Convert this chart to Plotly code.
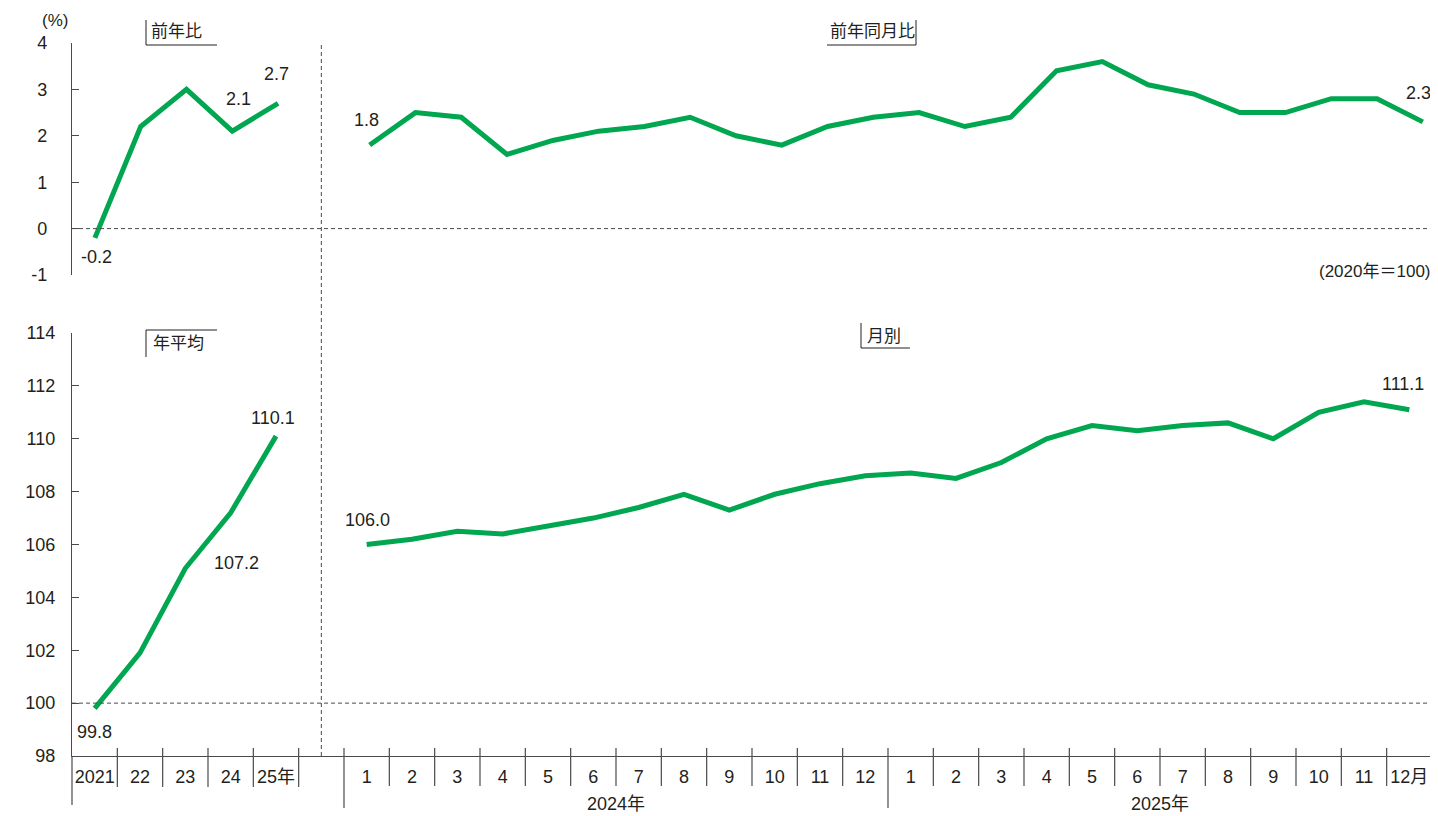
import plotly.graph_objects as go

# ---------------- data ----------------
annual_labels = ["2021", "22", "23", "24", "25年"]
month_labels = [str(i) for i in range(1, 13)] + [str(i) for i in range(1, 12)] + ["12月"]
year_labels = ["2024年", "2025年"]
yoy_ticks = [-1, 0, 1, 2, 3, 4]
yoy_ticktext = ["-1", "0", "1", "2", "3", "4"]
index_ticks = [98, 100, 102, 104, 106, 108, 110, 112, 114]

annual_yoy = [-0.2, 2.2, 3.0, 2.1, 2.7]
monthly_yoy = [1.8, 2.5, 2.4, 1.6, 1.9, 2.1, 2.2, 2.4, 2.0, 1.8, 2.2, 2.4,
               2.5, 2.2, 2.4, 3.4, 3.6, 3.1, 2.9, 2.5, 2.5, 2.8, 2.8, 2.3]
annual_index = [99.8, 101.9, 105.1, 107.2, 110.1]
monthly_index = [106.0, 106.2, 106.5, 106.4, 106.7, 107.0, 107.4, 107.9, 107.3, 107.9, 108.3, 108.6,
                 108.7, 108.5, 109.1, 110.0, 110.5, 110.3, 110.5, 110.6, 110.0, 111.0, 111.4, 111.1]

# ---------------- layout helpers ----------------
OFF = 8                      # page body margin in the browser
W, H = 1438 - OFF, 816 - OFF
L, R, T, B = 72, 1432, 43, 756   # target plot box in screenshot pixels
GREEN = "#00a650"
INK = "#231f20"
GRID = "#4a4a4a"
FONT = "Liberation Sans, Arial, Noto Sans CJK JP, sans-serif"
NA = len(annual_labels)
GAP = 1
NM = len(month_labels)
NTOT = NA + GAP + NM
TOP_SPAN = NTOT - 0.3        # upper panel is drawn on a slightly wider grid


def py(p):
    return (B - p) / (B - T)


def px(p):
    return (p - L) / (R - L)


xa = [i + 0.5 for i in range(NA)]
xm = [NA + GAP + i + 0.5 for i in range(NM)]

fig = go.Figure()
line = dict(color=GREEN, width=5)
fig.add_trace(go.Scatter(x=xa, y=annual_yoy, mode="lines", line=line, xaxis="x", yaxis="y"))
fig.add_trace(go.Scatter(x=xm, y=monthly_yoy, mode="lines", line=line, xaxis="x", yaxis="y"))
fig.add_trace(go.Scatter(x=xa, y=annual_index, mode="lines", line=line, xaxis="x2", yaxis="y2"))
fig.add_trace(go.Scatter(x=xm, y=monthly_index, mode="lines", line=line, xaxis="x2", yaxis="y2"))

shapes = []
dash = dict(color=GRID, width=1, dash="4px,3px")
shapes.append(dict(type="line", xref="paper", yref="y", x0=0, x1=1, y0=0, y1=0, line=dash))
shapes.append(dict(type="line", xref="x2", yref="y2", x0=0, x1=NTOT, y0=100, y1=100, line=dash))
shapes.append(dict(type="line", xref="x2", yref="paper", x0=NA + GAP / 2, x1=NA + GAP / 2,
                   y0=0, y1=1, line=dash))
sep = dict(color=GRID, width=1.2)
for k in range(1, NA + 1):
    shapes.append(dict(type="line", xref="x2", yref="paper", x0=k, x1=k, y0=py(787), y1=py(748), line=sep))
for k in range(NM + 1):
    xk = NA + GAP + k
    if k % 12 == 0:
        shapes.append(dict(type="line", xref="x2", yref="paper", x0=xk, x1=xk, y0=py(808), y1=py(748), line=sep))
    else:
        shapes.append(dict(type="line", xref="x2", yref="paper", x0=xk, x1=xk, y0=py(786), y1=py(748), line=sep))
shapes.append(dict(type="line", xref="paper", yref="paper", x0=0, x1=0, y0=py(805), y1=py(756),
                   line=dict(color=GRID, width=1.2)))

lb = dict(color=INK, width=1)


def seg(x0, y0, x1, y1):
    shapes.append(dict(type="line", xref="paper", yref="paper", x0=px(x0), x1=px(x1),
                       y0=py(y0), y1=py(y1), line=lb))


seg(146, 20, 146, 45); seg(146, 45, 217, 45)          # 前年比
seg(827, 45, 916, 45); seg(916, 20, 916, 45)          # 前年同月比
seg(146, 330, 217, 330); seg(146, 330, 146, 357)      # 年平均
seg(861, 323, 861, 348); seg(861, 348, 910, 348)      # 月別

ann = []


def txt(x, y, s, size=18, xanchor="center"):
    ann.append(dict(xref="paper", yref="paper", x=px(x), y=py(y), text=s, showarrow=False,
                    xanchor=xanchor, yanchor="middle", font=dict(size=size, color=INK, family=FONT)))


txt(176, 32, "前年比", 17)
txt(872, 32, "前年同月比", 17)
txt(178, 343, "年平均", 17)
txt(884, 336, "月別", 17)
txt(55, 20, "(%)", 17)
txt(1433, 271, "(2020年＝100)", 17, xanchor="right")

LBL = 18


def dl(xref, yref, x, y, s, dx, dy, xanchor="center"):
    ann.append(dict(xref=xref, yref=yref, x=x, y=y, text=s, showarrow=False, xshift=dx, yshift=dy,
                    xanchor=xanchor, yanchor="middle", font=dict(size=LBL, color=INK, family=FONT)))


dl("x", "y", xa[0], annual_yoy[0], f"{annual_yoy[0]:.1f}", 2, -19)
dl("x", "y", xa[3], annual_yoy[3], f"{annual_yoy[3]:.1f}", 6, 32)
dl("x", "y", xa[4], annual_yoy[4], f"{annual_yoy[4]:.1f}", -2, 29)
dl("x", "y", xm[0], monthly_yoy[0], f"{monthly_yoy[0]:.1f}", -3, 25)
dl("x", "y", xm[-1], monthly_yoy[-1], f"{monthly_yoy[-1]:.1f}", 10, 29, xanchor="right")
dl("x2", "y2", xa[0], annual_index[0], f"{annual_index[0]:.1f}", 0, -24)
dl("x2", "y2", xa[3], annual_index[3], f"{annual_index[3]:.1f}", 6, -50)
dl("x2", "y2", xa[4], annual_index[4], f"{annual_index[4]:.1f}", -3, 18)
dl("x2", "y2", xm[0], monthly_index[0], f"{monthly_index[0]:.1f}", 1, 25)
dl("x2", "y2", xm[-1], monthly_index[-1], f"{monthly_index[-1]:.1f}", -6, 26)

for j, s in enumerate(year_labels):
    ann.append(dict(xref="x2", yref="paper", x=NA + GAP + 12 * j + 6, y=py(804), text=s, showarrow=False,
                    xanchor="center", yanchor="middle", font=dict(size=LBL, color=INK, family=FONT)))

tickfont = dict(size=LBL, color=INK, family=FONT)
fig.update_layout(
    width=W, height=H,
    margin=dict(l=L - OFF, r=(1438 - R), t=T - OFF, b=(816 - B), pad=0),
    paper_bgcolor="white", plot_bgcolor="white",
    showlegend=False,
    font=dict(family=FONT, color=INK),
    xaxis=dict(domain=[0, 1], range=[0, TOP_SPAN], visible=False, anchor="y"),
    yaxis=dict(domain=[py(275), 1], range=[-1, 4], tickvals=yoy_ticks, ticktext=yoy_ticktext,
               showgrid=False, zeroline=False,
               showline=True, linecolor=GRID, linewidth=1.2, ticks="inside", ticklen=7,
               tickcolor=GRID, tickfont=tickfont, ticklabelstandoff=20, anchor="x"),
    xaxis2=dict(domain=[0, 1], range=[0, NTOT], anchor="y2", showgrid=False, zeroline=False,
                showline=True, linecolor=GRID, linewidth=1.2, ticks="",
                tickvals=xa + xm, ticktext=annual_labels + month_labels, tickangle=0,
                tickfont=tickfont, ticklabelstandoff=4),
    yaxis2=dict(domain=[0, py(333)], range=[98, 114], tickvals=index_ticks,
                showgrid=False, zeroline=False,
                showline=True, linecolor=GRID, linewidth=1.2, ticks="inside", ticklen=7,
                tickcolor=GRID, tickfont=tickfont, ticklabelstandoff=12, anchor="x2"),
    shapes=shapes,
    annotations=ann,
)

fig.write_html("out.html")
